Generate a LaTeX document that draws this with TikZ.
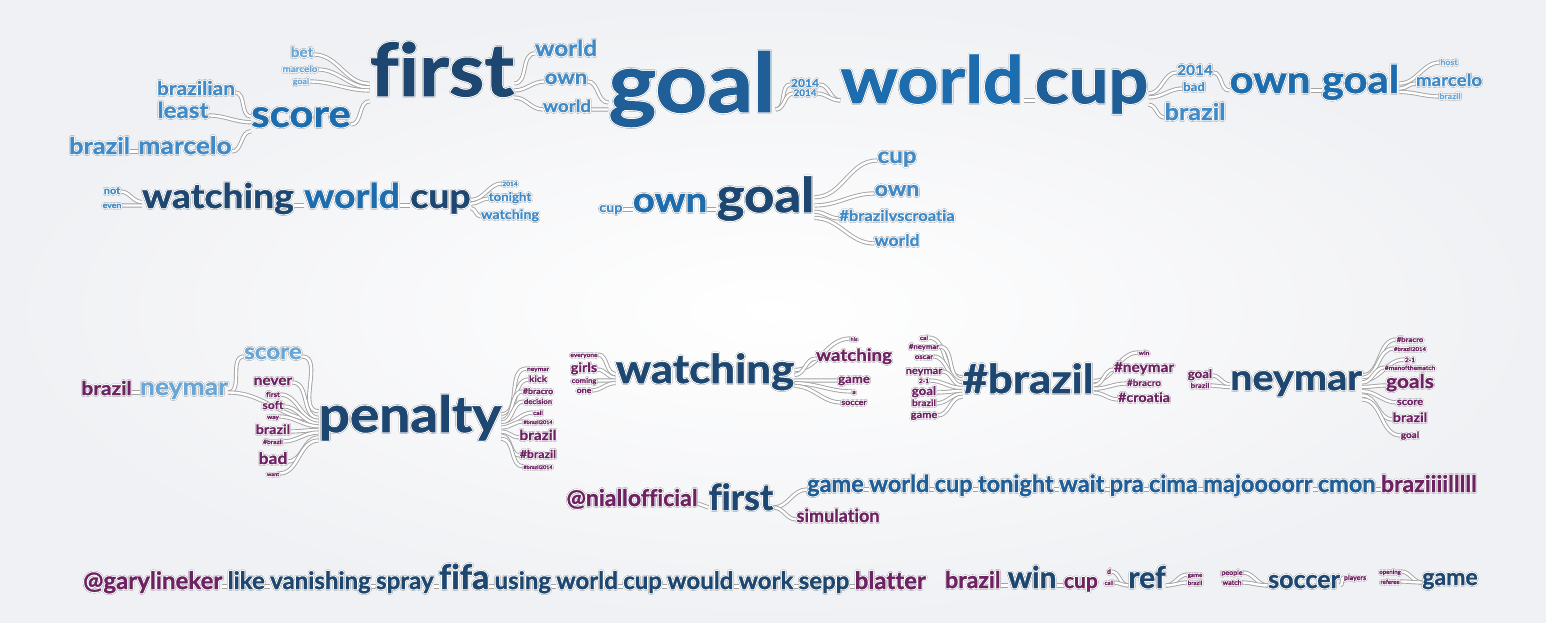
\documentclass[tikz,border=0pt]{standalone}
\usepackage{fontspec}
\usepackage[copies]{contour}
\setmainfont{Lato}
\newfontfamily\widefont{Lato}[FakeStretch=1.1, Ligatures=NoCommon, BoldFeatures={FakeBold=1.2}]
\newfontfamily\narrowfont{Lato}[Ligatures=NoCommon, BoldFeatures={FakeBold=1.2}]
\usetikzlibrary{positioning,calc,backgrounds}

\definecolor{navy}{RGB}{29,71,112}
\definecolor{steel}{RGB}{31,94,150}
\definecolor{azure}{RGB}{28,108,174}
\definecolor{sky}{RGB}{64,139,199}
\definecolor{pale}{RGB}{106,166,213}
\definecolor{plum}{RGB}{110,33,99}
\definecolor{bgrim}{RGB}{240,241,244}

% word with a grey rim and a white halo
\newcommand\wt[1]{\rlap{\contourlength{1.3pt}\contour{black!24}{#1}}%
  \contourlength{0.65pt}\contour{white}{#1}}
% connector, kept under the words
\newcommand\lnk[1]{\begin{pgfonlayer}{background}\draw[link] #1;\end{pgfonlayer}}

\begin{document}
\begin{tikzpicture}[x=1pt, y=-1pt,
    wd/.style={font=\widefont\bfseries\fontsize{#1}{#1}\selectfont,
               inner sep=0pt, anchor=base},
    nw/.style={font=\narrowfont\bfseries\fontsize{#1}{#1}\selectfont,
               inner sep=0pt, anchor=base},
    link/.style={draw=black!36, double=white, double distance=2.4pt,
                 line width=0.9pt},
    tree/.style={out=0, in=180}
  ]
  \useasboundingbox (0,0) rectangle (1546,622);
  \begin{scope}[on background layer]
    \shade[inner color=white, outer color=bgrim] (0,0) rectangle (1546,622);
  \end{scope}

  % ---- top row: brazil marcelo / score / first ----
  \node[wd=73, text=navy] (first) at (442,96) {\wt{first}};
  \node[wd=38, text=azure] (score) at (301,127) {\wt{score}};
  \lnk{(score.mid east) to[tree] ($(first.mid west)!.25!(first.mid west |- score.mid east)$)}
  \foreach \tx/\sz/\xx/\yy/\cl [count=\i] in {bet/14/302/57/pale, marcelo/9/300/72/pale, goal/8/301/84/pale}{
    \node[wd=\sz, text=\cl] (firstL\i) at (\xx,\yy) {\wt{\tx}};
    \lnk{(firstL\i.mid east) to[tree] ($(first.mid west)!.25!(first.mid west |- firstL\i.mid east)$)}
  }
  \foreach \tx/\sz/\xx/\yy/\cl [count=\i] in {brazilian/19/196/95/sky, least/22/183/118/sky}{
    \node[wd=\sz, text=\cl] (scoreL\i) at (\xx,\yy) {\wt{\tx}};
    \lnk{(scoreL\i.mid east) to[tree] ($(score.mid west)!.25!(score.mid west |- scoreL\i.mid east)$)}
  }
  \node[wd=24, text=sky] (marcelo) at (185,154) {\wt{marcelo}};
  \node[wd=23, text=sky, base left=8pt of marcelo] (brazilA) {\wt{brazil}};
  \lnk{(brazilA.mid east) -- (marcelo.mid west)}
  \lnk{(marcelo.mid east) to[tree] ($(score.mid west)!.25!(score.mid west |- marcelo.mid east)$)}

  % ---- top row: goal / world cup ----
  \foreach \tx/\sz/\xx/\yy/\cl [count=\i] in {world/22/566/56/sky, own/20/566/84/sky, world/17/567/112/sky}{
    \node[wd=\sz, text=\cl] (firstR\i) at (\xx,\yy) {\wt{\tx}};
    \lnk{($(first.mid east)!.25!(first.mid east |- firstR\i.mid west)$) to[tree] (firstR\i.mid west)}
  }
  \node[wd=82, text=steel] (goal) at (692,112) {\wt{goal}};
  \lnk{(firstR2.mid east) to[tree] ($(goal.mid west)!.25!(goal.mid west |- firstR2.mid east)$)}
  \lnk{(firstR3.mid east) to[tree] ($(goal.mid west)!.25!(goal.mid west |- firstR3.mid east)$)}
  \node[wd=65, text=azure] (world) at (932,103) {\wt{world}};
  \node[wd=64, text=steel, base right=11pt of world] (cup) {\wt{cup}};
  \lnk{(world.mid east) -- (cup.mid west)}
  \foreach \tx/\sz/\yy [count=\i] in {2014/11/87, 2014/9/96}{
    \node[wd=\sz, text=sky] (year\i) at (805,\yy) {\wt{\tx}};
    \lnk{(goal.mid east) to[tree] (year\i.mid west)}
    \lnk{(year\i.mid east) to[tree] (world.mid west)}
  }

  % ---- top row: own goal ----
  \foreach \tx/\sz/\xx/\yy/\cl [count=\i] in {2014/14/1195/75/sky, bad/12/1194/91/sky, brazil/23/1195/120/sky}{
    \node[wd=\sz, text=\cl] (cupR\i) at (\xx,\yy) {\wt{\tx}};
    \lnk{($(cup.mid east)!.25!(cup.mid east |- cupR\i.mid west)$) to[tree] (cupR\i.mid west)}
  }
  \node[wd=38, text=azure] (ownB) at (1270,93) {\wt{own}};
  \node[wd=38, text=azure, base right=11pt of ownB] (goalB) {\wt{goal}};
  \lnk{(cupR1.mid east) to[tree] (ownB.mid west)}
  \lnk{(ownB.mid east) -- (goalB.mid west)}
  \foreach \tx/\sz/\xx/\yy/\cl [count=\i] in {host/8/1449/65/pale, marcelo/17/1449/86/sky, brazil/8/1450/99/pale}{
    \node[wd=\sz, text=\cl] (goalBR\i) at (\xx,\yy) {\wt{\tx}};
    \lnk{($(goalB.mid east)!.25!(goalB.mid east |- goalBR\i.mid west)$) to[tree] (goalBR\i.mid west)}
  }

  % ---- second row: watching world cup ----
  \node[wd=34, text=navy] (watch) at (218,208) {\wt{watching}};
  \node[wd=34, text=azure, base right=10pt of watch] (worldC) {\wt{world}};
  \node[wd=34, text=navy, base right=10pt of worldC] (cupC) {\wt{cup}};
  \lnk{(watch.mid east) -- (worldC.mid west)}
  \lnk{(worldC.mid east) -- (cupC.mid west)}
  \foreach \tx/\sz/\yy [count=\i] in {not/10/194, even/8/208}{
    \node[wd=\sz, text=sky] (watchL\i) at (112,\yy) {\wt{\tx}};
    \lnk{(watchL\i.mid east) to[tree] ($(watch.mid west)!.25!(watch.mid west |- watchL\i.mid east)$)}
  }
  \foreach \tx/\sz/\yy [count=\i] in {2014/6/186, tonight/12/201, watching/13/219}{
    \node[wd=\sz, text=sky] (cupCR\i) at (510,\yy) {\wt{\tx}};
    \lnk{($(cupC.mid east)!.25!(cupC.mid east |- cupCR\i.mid west)$) to[tree] (cupCR\i.mid west)}
  }

  % ---- second row: cup own goal ----
  \node[wd=35, text=azure] (ownD) at (670,212) {\wt{own}};
  \node[wd=13, text=sky, base left=10pt of ownD] (cupD) {\wt{cup}};
  \node[wd=48, text=navy, base right=9pt of ownD] (goalD) {\wt{goal}};
  \lnk{(cupD.mid east) -- (ownD.mid west)}
  \lnk{(ownD.mid east) -- (goalD.mid west)}
  \foreach \tx/\sz/\yy [count=\i] in {cup/22/163, own/21/196, \#brazilvscroatia/15/221, world/16/246}{
    \node[wd=\sz, text=sky] (goalDR\i) at (897,\yy) {\wt{\tx}};
    \lnk{($(goalD.mid east)!.25!(goalD.mid east |- goalDR\i.mid west)$) to[tree] (goalDR\i.mid west)}
  }

  % ---- third row: penalty ----
  \node[wd=50, text=navy] (pen) at (410,432) {\wt{penalty}};
  \node[wd=24, text=pale] (nym) at (184,395) {\wt{neymar}};
  \node[wd=19, text=plum, base left=8pt of nym] (brazilE) {\wt{brazil}};
  \node[wd=22, text=pale] (scoreE) at (273,359) {\wt{score}};
  \lnk{(brazilE.mid east) -- (nym.mid west)}
  \lnk{(nym.mid east) to[tree] (scoreE.mid west)}
  \lnk{(scoreE.mid east) to[tree] ($(pen.mid west)!.25!(pen.mid west |- scoreE.mid east)$)}
  \lnk{(nym.mid east) to[tree] ($(pen.mid west)!.25!(pen.mid west |- nym.mid east)$)}
  \foreach \tx/\sz/\yy [count=\i] in {never/14/385, first/7/397, soft/11/409, way/6/419,
      brazil/13/434, \#brazil/6/444, bad/16/464, want/5/476}{
    \node[wd=\sz, text=plum] (penL\i) at (273,\yy) {\wt{\tx}};
    \lnk{(penL\i.mid east) to[tree] ($(pen.mid west)!.25!(pen.mid west |- penL\i.mid east)$)}
  }
  \foreach \tx/\sz/\yy [count=\i] in {neymar/6/371, kick/9/382, \#bracro/8/394, decision/7/404,
      call/6/415, \#brazil2014/5/424, brazil/14/440, \#brazil/11/458, \#brazil2014/5/469}{
    \node[wd=\sz, text=plum] (penR\i) at (538,\yy) {\wt{\tx}};
    \lnk{($(pen.mid east)!.25!(pen.mid east |- penR\i.mid west)$) to[tree] (penR\i.mid west)}
  }

  % ---- third row: watching ----
  \node[wd=40, text=navy] (wtc) at (705,383) {\wt{watching}};
  \foreach \tx/\sz/\yy [count=\i] in {everyone/6/357, girls/13/372, coming/7/383, one/8/393}{
    \node[wd=\sz, text=plum] (wtcL\i) at (584,\yy) {\wt{\tx}};
    \lnk{(wtcL\i.mid east) to[tree] ($(wtc.mid west)!.25!(wtc.mid west |- wtcL\i.mid east)$)}
  }
  \foreach \tx/\sz/\yy [count=\i] in {his/5/341, watching/17/361, game/12/383, a/6/394, soccer/8/405}{
    \node[wd=\sz, text=plum] (wtcR\i) at (854,\yy) {\wt{\tx}};
    \lnk{($(wtc.mid east)!.25!(wtc.mid east |- wtcR\i.mid west)$) to[tree] (wtcR\i.mid west)}
  }

  % ---- third row: #brazil ----
  \node[wd=40, text=navy] (hb) at (1028,393) {\wt{\#brazil}};
  \foreach \tx/\sz/\yy [count=\i] in {cai/6/340, \#neymar/7/349, oscar/7/359, neymar/10/374,
      2-1/6/383, goal/12/395, brazil/9/406, game/10/418}{
    \node[wd=\sz, text=plum] (hbL\i) at (924,\yy) {\wt{\tx}};
    \lnk{(hbL\i.mid east) to[tree] ($(hb.mid west)!.25!(hb.mid west |- hbL\i.mid east)$)}
  }
  \foreach \tx/\sz/\yy [count=\i] in {win/6/355, \#neymar/14/372, \#bracro/9/386, \#croatia/13/402}{
    \node[wd=\sz, text=plum] (hbR\i) at (1144,\yy) {\wt{\tx}};
    \lnk{($(hb.mid east)!.25!(hb.mid east |- hbR\i.mid west)$) to[tree] (hbR\i.mid west)}
  }

  % ---- third row: neymar ----
  \node[wd=36, text=navy] (nyb) at (1296,390) {\wt{neymar}};
  \foreach \tx/\sz/\yy [count=\i] in {goal/12/378, brazil/7/388}{
    \node[wd=\sz, text=plum] (nybL\i) at (1200,\yy) {\wt{\tx}};
    \lnk{(nybL\i.mid east) to[tree] ($(nyb.mid west)!.25!(nyb.mid west |- nybL\i.mid east)$)}
  }
  \foreach \tx/\sz/\yy [count=\i] in {\#bracro/7/342, \#brazil2014/5.5/351, 2-1/6/362, \#manofthematch/6/370,
      goals/19/388, score/10/405, brazil/13/422, goal/9/438}{
    \node[wd=\sz, text=plum] (nybR\i) at (1410,\yy) {\wt{\tx}};
    \lnk{($(nyb.mid east)!.25!(nyb.mid east |- nybR\i.mid west)$) to[tree] (nybR\i.mid west)}
  }

  % ---- fourth row: @niallofficial first ----
  \node[nw=23, text=plum] (nia) at (632,506) {\wt{@niallofficial}};
  \node[nw=36, text=navy] (fst) at (741,510) {\wt{first}};
  \lnk{(nia.mid east) -- (fst.mid west)}
  \node[nw=23.5, text=steel, anchor=base west] (nc0) at (807,492) {\wt{game}};
  \foreach \tx/\sz/\cl [count=\i, evaluate=\i as \j using int(\i-1)] in {world/23.5/steel, cup/23.5/steel,
      tonight/23.5/steel, wait/23.5/steel, pra/23.5/steel, cima/23.5/steel, majoooorr/23.5/steel,
      cmon/23.5/steel, braziiiilllll/23/plum}{
    \node[nw=\sz, text=\cl, base right=5pt of nc\j] (nc\i) {\wt{\tx}};
    \lnk{(nc\j.mid east) -- (nc\i.mid west)}
  }
  \node[nw=18, text=plum] (sim) at (838,522) {\wt{simulation}};
  \lnk{(fst.mid east) to[tree] (nc0.mid west)}
  \lnk{(fst.mid east) to[tree] (sim.mid west)}

  % ---- bottom row: @garylineker ... blatter ----
  \node[nw=24, text=plum, anchor=base west] (gary0) at (83,589) {\wt{@garylineker}};
  \foreach \tx/\sz/\cl [count=\i, evaluate=\i as \j using int(\i-1)] in {like/24/navy, vanishing/24/navy,
      spray/24/navy, fifa/34/navy, using/24/navy, world/24/navy, cup/24/navy, would/24/navy,
      work/24/navy, sepp/24/navy, blatter/24/plum}{
    \node[nw=\sz, text=\cl, base right=5pt of gary\j] (gary\i) {\wt{\tx}};
    \lnk{(gary\j.mid east) -- (gary\i.mid west)}
  }

  % ---- bottom row: brazil win cup / ref / soccer / game ----
  \node[nw=23, text=plum, anchor=base west] (bw0) at (945,588) {\wt{brazil}};
  \node[nw=30, text=navy, base right=7pt of bw0] (bw1) {\wt{win}};
  \node[nw=21, text=plum, base right=7pt of bw1] (bw2) {\wt{cup}};
  \lnk{(bw0.mid east) -- (bw1.mid west)}
  \lnk{(bw1.mid east) -- (bw2.mid west)}

  \node[nw=30, text=navy] (ref) at (1147,588) {\wt{ref}};
  \foreach \tx/\sz/\yy [count=\i] in {d/7/574, call/6/585}{
    \node[nw=\sz, text=plum] (refL\i) at (1109,\yy) {\wt{\tx}};
    \lnk{(refL\i.mid east) to[tree] (ref.mid west)}
  }
  \foreach \tx/\sz/\yy [count=\i] in {game/6/577, brazil/6/585}{
    \node[nw=\sz, text=plum] (refR\i) at (1195,\yy) {\wt{\tx}};
    \lnk{(ref.mid east) to[tree] (refR\i.mid west)}
  }
  \node[nw=25, text=navy] (soc) at (1304,588) {\wt{soccer}};
  \foreach \tx/\sz/\yy [count=\i] in {people/7/575, watch/7/585}{
    \node[nw=\sz, text=plum] (socL\i) at (1232,\yy) {\wt{\tx}};
    \lnk{(socL\i.mid east) to[tree] (soc.mid west)}
  }
  \node[nw=7, text=plum] (players) at (1355,580) {\wt{players}};
  \lnk{(soc.mid east) to[tree] (players.mid west)}
  \node[nw=23, text=navy] (gameE) at (1450,585) {\wt{game}};
  \foreach \tx/\sz/\yy [count=\i] in {opening/6/574, referee/6/584}{
    \node[nw=\sz, text=plum] (gameL\i) at (1390,\yy) {\wt{\tx}};
    \lnk{(gameL\i.mid east) to[tree] (gameE.mid west)}
  }
\end{tikzpicture}
\end{document}
